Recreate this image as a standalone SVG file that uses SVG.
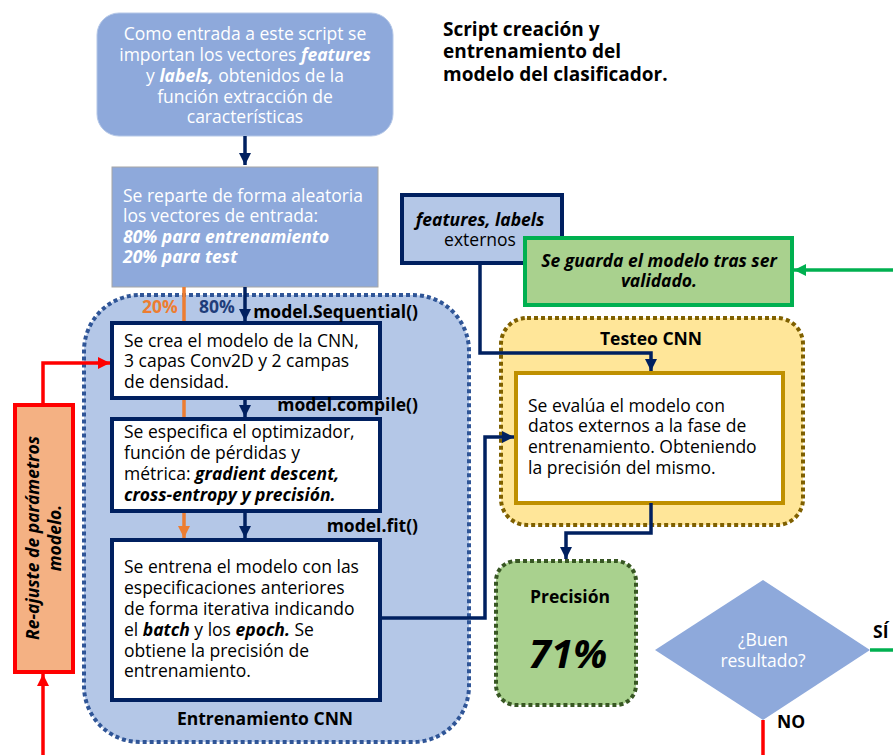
<svg xmlns="http://www.w3.org/2000/svg" width="893" height="755" viewBox="0 0 893 755">
  <style>
    text { font-family: "Open Sans", "Noto Sans", "DejaVu Sans", sans-serif; font-size: 17.5px; }
    .w { fill: #ffffff; }
    .k { fill: #000000; }
    .b { font-weight: bold; }
    .bi { font-weight: bold; font-style: italic; }
    .mid { text-anchor: middle; }
    .end { text-anchor: end; }
    .title { font-size: 19px; }
    .big { font-size: 40px; }
    .navy { fill: none; stroke: #002060; stroke-width: 3.5; }
    .box { fill: #ffffff; stroke: #002060; stroke-width: 4; }
  </style>
  <defs>
    <marker id="ah-navy" markerUnits="userSpaceOnUse" markerWidth="14" markerHeight="14" viewBox="0 0 14 14" refX="12" refY="7" orient="auto">
      <path d="M0,1 L12,7 L0,13 Z" fill="#002060"/>
    </marker>
    <marker id="ah-orange" markerUnits="userSpaceOnUse" markerWidth="14" markerHeight="14" viewBox="0 0 14 14" refX="12" refY="7" orient="auto">
      <path d="M0,1 L12,7 L0,13 Z" fill="#ED7D31"/>
    </marker>
    <marker id="ah-red" markerUnits="userSpaceOnUse" markerWidth="14" markerHeight="14" viewBox="0 0 14 14" refX="12" refY="7" orient="auto">
      <path d="M0,1 L12,7 L0,13 Z" fill="#FF0000"/>
    </marker>
    <marker id="ah-green" markerUnits="userSpaceOnUse" markerWidth="14" markerHeight="14" viewBox="0 0 14 14" refX="12" refY="7" orient="auto">
      <path d="M0,1 L12,7 L0,13 Z" fill="#00B050"/>
    </marker>
  </defs>

  <!-- Title -->
  <g id="title">
    <text class="k b title" x="443" y="36">Script creación y</text>
    <text class="k b title" x="443" y="58">entrenamiento del</text>
    <text class="k b title" x="443" y="81">modelo del clasificador.</text>
  </g>

  <!-- Input vectors -->
  <g id="input">
    <rect x="97" y="13" width="296" height="123" rx="22" fill="#8EA9DB" stroke="#B4C7E7" stroke-width="1"/>
    <text class="w mid" x="245" y="40">Como entrada a este script se</text>
    <text class="w mid" x="245" y="61">importan los vectores <tspan class="bi">features</tspan></text>
    <text class="w mid" x="245" y="82">y <tspan class="bi">labels,</tspan> obtenidos de la</text>
    <text class="w mid" x="245" y="103">función extracción de</text>
    <text class="w mid" x="245" y="123">características</text>
  </g>

  <!-- Random split -->
  <g id="split">
    <rect x="112" y="167" width="266" height="120" fill="#8EA9DB" stroke="#A6A6A6" stroke-width="1"/>
    <text class="w" x="123" y="202">Se reparte de forma aleatoria</text>
    <text class="w" x="123" y="222">los vectores de entrada:</text>
    <text class="w bi" x="123" y="243">80% para entrenamiento</text>
    <text class="w bi" x="123" y="263">20% para test</text>
  </g>

  <!-- Training container -->
  <g id="training">
    <rect x="84" y="295" width="385" height="447" rx="56" fill="#B4C7E7" stroke="#2F5597" stroke-width="4" stroke-dasharray="4 3"/>
    <text class="k b mid" x="265" y="725">Entrenamiento CNN</text>
  </g>

  <!-- 20% test branch (runs behind the training boxes) -->
  <g id="test-branch">
    <line x1="184" y1="287" x2="184" y2="538" stroke="#ED7D31" stroke-width="3.5" marker-end="url(#ah-orange)"/>
  </g>

  <g id="create-model">
    <rect class="box" x="112" y="323" width="268" height="75"/>
    <text class="k" x="124" y="347">Se crea el modelo de la CNN,</text>
    <text class="k" x="124" y="367">3 capas Conv2D y 2 campas</text>
    <text class="k" x="124" y="388">de densidad.</text>
  </g>

  <g id="compile-model">
    <rect class="box" x="112" y="419" width="268" height="92"/>
    <text class="k" x="124" y="438">Se especifica el optimizador,</text>
    <text class="k" x="124" y="459">función de pérdidas y</text>
    <text class="k" x="124" y="480">métrica: <tspan class="bi">gradient descent,</tspan></text>
    <text class="k bi" x="124" y="501">cross-entropy y precisión.</text>
  </g>

  <g id="fit-model">
    <rect class="box" x="112" y="540" width="268" height="160"/>
    <text class="k" x="124" y="573">Se entrena el modelo con las</text>
    <text class="k" x="124" y="594">especificaciones anteriores</text>
    <text class="k" x="124" y="615">de forma iterativa indicando</text>
    <text class="k" x="124" y="636">el <tspan class="bi">batch</tspan> y los <tspan class="bi">epoch.</tspan> Se</text>
    <text class="k" x="124" y="657">obtiene la precisión de</text>
    <text class="k" x="124" y="677">entrenamiento.</text>
  </g>

  <!-- Method labels -->
  <g id="labels">
    <text class="b" x="142" y="313" fill="#ED7D31">20%</text>
    <text class="b" x="199" y="313" fill="#1F3D7A">80%</text>
    <text class="k b end" x="418" y="318">model.Sequential()</text>
    <text class="k b end" x="418" y="411">model.compile()</text>
    <text class="k b end" x="418" y="532">model.fit()</text>
  </g>

  <!-- External data -->
  <g id="external">
    <rect x="402" y="195" width="160" height="68" fill="#B4C7E7" stroke="#002060" stroke-width="4"/>
    <text class="k bi mid" x="480" y="226">features, labels</text>
    <text class="k mid" x="480" y="246">externos</text>
  </g>

  <!-- Testing container -->
  <g id="testing">
    <rect x="501" y="318" width="302" height="207" rx="26" fill="#FFE699" stroke="#7F6000" stroke-width="4" stroke-dasharray="4 3"/>
    <text class="k b mid" x="651" y="345">Testeo CNN</text>
  </g>

  <g id="evaluate">
    <rect x="516" y="373" width="267" height="130" fill="#ffffff" stroke="#BF9000" stroke-width="4"/>
    <text class="k" x="528" y="412">Se evalúa el modelo con</text>
    <text class="k" x="528" y="432">datos externos a la fase de</text>
    <text class="k" x="528" y="453">entrenamiento. Obteniendo</text>
    <text class="k" x="528" y="474">la precisión del mismo.</text>
  </g>

  <!-- Save model -->
  <g id="save-model">
    <rect x="525" y="238" width="267" height="67" fill="#A9D18E" stroke="#00B050" stroke-width="4"/>
    <text class="k bi mid" x="659" y="267">Se guarda el modelo tras ser</text>
    <text class="k bi mid" x="659" y="287">validado.</text>
  </g>

  <!-- Accuracy result -->
  <g id="accuracy">
    <rect x="496" y="561" width="140" height="144" rx="20" fill="#A9D18E" stroke="#385723" stroke-width="4" stroke-dasharray="4 3"/>
    <text class="k b mid" x="570" y="603">Precisión</text>
    <text class="k bi mid big" x="568" y="668">71%</text>
  </g>

  <!-- Decision -->
  <g id="decision">
    <polygon points="763,580 870,650 763,720 655,650" fill="#8EA9DB"/>
    <text class="w mid" x="763" y="646">¿Buen</text>
    <text class="w mid" x="763" y="667">resultado?</text>
    <text class="k b" x="873" y="638">SÍ</text>
    <text class="k b" x="777" y="728">NO</text>
  </g>

  <!-- Re-adjust parameters -->
  <g id="readjust">
    <rect x="15" y="405" width="58" height="267" fill="#F4B183" stroke="#FF0000" stroke-width="4"/>
    <text class="k bi mid" transform="translate(43,538) rotate(-90)"><tspan x="0" y="-4">Re-ajuste de parámetros</tspan><tspan x="0" y="18">modelo.</tspan></text>
  </g>

  <!-- Connectors -->
  <g id="connectors">
    <line class="navy" x1="245" y1="136" x2="245" y2="165" marker-end="url(#ah-navy)"/>
    <line class="navy" x1="245" y1="287" x2="245" y2="321" marker-end="url(#ah-navy)"/>
    <line class="navy" x1="245" y1="398" x2="245" y2="417" marker-end="url(#ah-navy)"/>
    <line class="navy" x1="245" y1="511" x2="245" y2="538" marker-end="url(#ah-navy)"/>
    <polyline class="navy" points="380,618 485,618 485,437 514,437" marker-end="url(#ah-navy)"/>
    <polyline class="navy" points="480,263 480,353 651,353 651,371" marker-end="url(#ah-navy)"/>
    <polyline class="navy" points="651,503 651,533 566,533 566,559" marker-end="url(#ah-navy)"/>
    <line x1="893" y1="270" x2="794" y2="270" stroke="#00B050" stroke-width="3.5" marker-end="url(#ah-green)"/>
    <line x1="870" y1="650" x2="893" y2="650" stroke="#00B050" stroke-width="3.5"/>
    <line x1="763" y1="720" x2="763" y2="755" stroke="#FF0000" stroke-width="3.5"/>
    <line x1="43" y1="755" x2="43" y2="674" stroke="#FF0000" stroke-width="3.5" marker-end="url(#ah-red)"/>
    <polyline points="43,405 43,363 110,363" fill="none" stroke="#FF0000" stroke-width="3.5" marker-end="url(#ah-red)"/>
  </g>
</svg>
